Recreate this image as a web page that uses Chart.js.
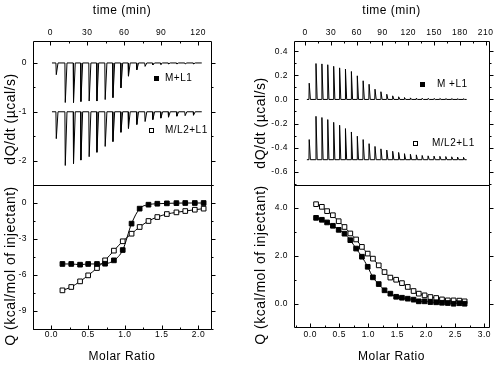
<!DOCTYPE html>
<html>
<head>
<meta charset="utf-8">
<script src="https://cdn.jsdelivr.net/npm/chart.js@4.4.1/dist/chart.umd.min.js"></script>
<style>
body { margin: 0; background: #fff; }
#wrap { position: relative; width: 500px; height: 369px; overflow: hidden; }
canvas { position: absolute; }
</style>
</head>
<body>
<div id="wrap">
	<canvas id="rawLeft" width="250" height="186" style="left:0;top:0"></canvas>
	<canvas id="fitLeft" width="250" height="185" style="left:0;top:184px"></canvas>
	<canvas id="rawRight" width="250" height="186" style="left:250px;top:0"></canvas>
	<canvas id="fitRight" width="250" height="185" style="left:250px;top:184px"></canvas>
</div>
<script>
// ---- left experiment: raw heat pulses ----
var timeLeft = [4.9, 12.2, 18.9, 24.9, 31.6, 37.9, 44.6, 50.9, 57.4, 63.5, 70.3, 77.0, 83.3, 89.8, 96.0, 102.8, 109.5, 116.3];
var peakLeftML1 = [-0.24, -0.81, -0.81, -0.79, -0.78, -0.78, -0.75, -0.71, -0.51, -0.27, -0.14, -0.07, -0.04, -0.03, -0.02, -0.02, -0.02, -0.02];
var peakLeftML2 = [-1.55, -2.1, -2.06, -1.99, -1.92, -1.83, -1.71, -1.61, -1.42, -1.34, -1.26, -1.2, -1.16, -1.13, -1.11, -1.09, -1.08, -1.07];
var baseLeftML1 = 0;
var baseLeftML2 = -1;
var spanLeft = [1.4, 123];

// ---- left experiment: integrated heats ----
var ratioLeft = [0.15, 0.27, 0.39, 0.50, 0.62, 0.73, 0.85, 0.97, 1.09, 1.20, 1.32, 1.44, 1.57, 1.70, 1.82, 1.95, 2.07];
var qLeftML1 = [-5.08, -5.08, -5.14, -5.08, -5.08, -5.06, -4.78, -3.92, -1.72, -0.47, -0.14, -0.06, -0.03, -0.01, 0, 0, 0];
var qLeftML2 = [-7.28, -7.0, -6.53, -6.03, -5.42, -4.78, -3.97, -3.19, -2.56, -2.0, -1.5, -1.17, -0.92, -0.78, -0.67, -0.56, -0.47];

// ---- right experiment: raw heat pulses ----
var timeRight = [4.7, 12.6, 19.5, 26.3, 33.2, 40.1, 46.9, 53.8, 60.7, 67.5, 74.4, 81.3, 88.2, 95.0, 101.9, 108.8, 115.6, 122.5, 129.4, 136.2, 143.1, 150.0, 156.8, 163.7, 170.6, 177.4, 184.3];
var peakRightML1 = [0.135, 0.298, 0.295, 0.288, 0.275, 0.262, 0.252, 0.232, 0.196, 0.155, 0.126, 0.085, 0.064, 0.043, 0.03, 0.022, 0.016, 0.013, 0.011, 0.01, 0.009, 0.008, 0.008, 0.007, 0.007, 0.006, 0.006];
var peakRightML2 = [-0.333, -0.14, -0.15, -0.167, -0.19, -0.214, -0.242, -0.27, -0.305, -0.333, -0.367, -0.39, -0.41, -0.42, -0.43, -0.44, -0.45, -0.455, -0.46, -0.465, -0.468, -0.47, -0.472, -0.474, -0.476, -0.478, -0.48];
var baseRightML1 = 0;
var baseRightML2 = -0.5;
var spanRight = [2, 188];

// ---- right experiment: integrated heats ----
var ratioRight = [0.10, 0.20, 0.29, 0.39, 0.49, 0.59, 0.69, 0.79, 0.89, 0.99, 1.08, 1.18, 1.28, 1.38, 1.48, 1.58, 1.68, 1.78, 1.87, 1.97, 2.07, 2.17, 2.27, 2.37, 2.47, 2.57, 2.66];
var qRightML1 = [3.58, 3.5, 3.39, 3.25, 3.08, 2.92, 2.65, 2.3, 1.96, 1.54, 1.1, 0.82, 0.56, 0.42, 0.29, 0.25, 0.21, 0.17, 0.1, 0.1, 0.07, 0.06, 0.04, 0.03, 0.0, 0.02, 0.0];
var qRightML2 = [4.15, 4.04, 3.86, 3.69, 3.44, 3.2, 2.93, 2.68, 2.37, 2.09, 1.88, 1.6, 1.32, 1.09, 1.0, 0.86, 0.7, 0.53, 0.42, 0.35, 0.28, 0.24, 0.18, 0.14, 0.14, 0.13, 0.1];

var FONT = "'Liberation Sans', Arial, sans-serif";

function isMajor(v, every) {
	var r = v / every;
	return Math.abs(r - Math.round(r)) < 1e-6;
}

// baseline with one narrow pulse per injection
function buildTrace(times, peaks, base, span) {
	var pts = [{ x: span[0], y: base }];
	for (var i = 0; i < times.length; i++) {
		pts.push({ x: times[i] - 0.3, y: base });
		pts.push({ x: times[i], y: peaks[i] });
		pts.push({ x: times[i] + 1.4, y: base });
	}
	pts.push({ x: span[1], y: base });
	return pts;
}

function pairs(xs, ys) {
	var out = [];
	for (var i = 0; i < xs.length; i++) out.push({ x: xs[i], y: ys[i] });
	return out;
}

// frame, inward ticks, spaced-out text and the little legends
var framePlugin = {
	id: "frame",
	beforeDraw: function(chart) {
		chart.ctx.letterSpacing = "0.5px";
		Object.values(chart.scales).forEach(function(scale) {
			if (scale._wrapped) return;
			scale._wrapped = true;
			var orig = scale.drawTitle;
			scale.drawTitle = function() {
				var ctx = this.ctx;
				var shift = this.options.titleShift || 0;
				ctx.save();
				ctx.translate(0, shift);
				orig.apply(this, arguments);
				ctx.restore();
			};
		});
	},
	afterDraw: function(chart, args, opts) {
		var ctx = chart.ctx;
		var a = chart.chartArea;
		var L = Math.round(a.left) + 0.5, T = Math.round(a.top) + 0.5;
		var R = Math.round(a.right) + 0.5, B = Math.round(a.bottom) + 0.5;
		ctx.save();
		ctx.strokeStyle = "#000";
		ctx.lineWidth = 1;
		ctx.beginPath();
		ctx.rect(L, T, R - L, B - T);
		ctx.stroke();

		Object.values(chart.scales).forEach(function(scale) {
			var every = scale.options.majorEvery;
			ctx.beginPath();
			scale.ticks.forEach(function(t) {
				var len = isMajor(t.value, every) ? 4 : 2;
				var p = Math.round(scale.getPixelForValue(t.value)) + 0.5;
				if (scale.isHorizontal()) {
					if (p < L || p > R) return;
					if (scale.options.position == "top") {
						ctx.moveTo(p, T); ctx.lineTo(p, T + len);
					} else {
						ctx.moveTo(p, B); ctx.lineTo(p, B - len);
					}
				} else {
					if (p < T || p > B) return;
					ctx.moveTo(L, p); ctx.lineTo(L + len, p);
					ctx.moveTo(R, p); ctx.lineTo(R + len, p);
				}
			});
			ctx.stroke();
		});

		(opts.items || []).forEach(function(it) {
			var x = Math.round(a.left + it.dx) + 0.5, y = Math.round(a.top + it.dy) + 0.5;
			ctx.fillStyle = it.filled ? "#000" : "#fff";
			ctx.fillRect(x - 2, y - 2, 4, 4);
			ctx.strokeRect(x - 2, y - 2, 4, 4);
			ctx.fillStyle = "#000";
			ctx.font = "10px " + FONT;
			ctx.textBaseline = "middle";
			ctx.textAlign = "left";
			ctx.fillText(it.text, a.left + it.tx, y);
		});
		ctx.restore();
	}
};

function axis(pos, min, max, step, every, decimals, size, title, titlePad, labelPad, titleShift) {
	return {
		type: "linear",
		position: pos,
		min: min,
		max: max,
		majorEvery: every,
		titleShift: titleShift || 0,
		grid: { display: false, drawTicks: false },
		border: { display: false },
		ticks: {
			stepSize: step,
			autoSkip: false,
			includeBounds: false,
			maxRotation: 0,
			padding: labelPad,
			color: "#000",
			font: { family: FONT, size: 8.5 },
			callback: function(v) {
				return isMajor(v, every) ? Number(v).toFixed(decimals) : "";
			}
		},
		title: {
			display: true,
			text: title,
			color: "#000",
			padding: titlePad,
			font: { family: FONT, size: pos == "left" ? 14 : 12 }
		},
		afterFit: function(scale) {
			// fixed box sizes so the four frames line up
			if (pos == "left") scale.width = size;
			else scale.height = size;
			scale.paddingTop = 0;
			scale.paddingBottom = 0;
			scale.paddingLeft = 0;
			scale.paddingRight = 0;
		}
	};
}

function lineSet(points) {
	return {
		data: points,
		showLine: true,
		borderColor: "#000",
		borderWidth: 1,
		pointRadius: 0,
		tension: 0
	};
}

function markSet(points, filled) {
	return {
		data: points,
		showLine: true,
		borderColor: "#000",
		borderWidth: 1,
		backgroundColor: filled ? "#000" : "#fff",
		pointStyle: "rect",
		pointRadius: 3.3,
		pointBorderWidth: 1,
		cubicInterpolationMode: "monotone"
	};
}

function makeChart(id, datasets, scales, padding, items) {
	return new Chart(document.getElementById(id).getContext("2d"), {
		type: "scatter",
		data: { datasets: datasets },
		options: {
			responsive: false,
			animation: false,
			events: [],
			layout: { padding: padding, autoPadding: false },
			plugins: {
				legend: { display: false },
				tooltip: { enabled: false },
				frame: { items: items }
			},
			scales: scales
		},
		plugins: [framePlugin]
	});
}

var rawLeft = makeChart("rawLeft",
	[
		lineSet(buildTrace(timeLeft, peakLeftML1, baseLeftML1, spanLeft)),
		lineSet(buildTrace(timeLeft, peakLeftML2, baseLeftML2, spanLeft))
	],
	{
		x: axis("top", -14, 130.5, 15, 30, 0, 41, "time (min)", { top: 3, bottom: 0 }, 3),
		y: axis("left", -2.5, 0.45, 0.5, 1, 0, 33, "dQ/dt (\u00b5cal/s)", { top: 3, bottom: 0 }, 6, 6)
	},
	{ left: 0, top: 0, right: 39, bottom: 1 },
	[
		{ dx: 123, dy: 37, tx: 132, text: "M+L1", filled: true },
		{ dx: 118, dy: 89, tx: 132, text: "M/L2+L1", filled: false }
	]
);

var fitLeft = makeChart("fitLeft",
	[markSet(pairs(ratioLeft, qLeftML1), true), markSet(pairs(ratioLeft, qLeftML2), false)],
	{
		x: axis("bottom", -0.25, 2.17, 0.25, 0.5, 1, 40, "Molar Ratio", { top: 0, bottom: 5 }, 1),
		y: axis("left", -10.5, 1.5, 1.5, 3, 0, 33, "Q (kcal/mol of injectant)", { top: 3, bottom: 0 }, 6, 9)
	},
	{ left: 0, top: 1, right: 39, bottom: 0 },
	[]
);

var rawRight = makeChart("rawRight",
	[
		lineSet(buildTrace(timeRight, peakRightML1, baseRightML1, spanRight)),
		lineSet(buildTrace(timeRight, peakRightML2, baseRightML2, spanRight))
	],
	{
		x: axis("top", -13, 214, 15, 30, 0, 41, "time (min)", { top: 3, bottom: 0 }, 3),
		y: axis("left", -0.71, 0.485, 0.1, 0.2, 1, 44, "dQ/dt (\u00b5cal/s)", { top: 3, bottom: 0 }, 6, 10)
	},
	{ left: 0, top: 0, right: 11, bottom: 1 },
	[
		{ dx: 128, dy: 43, tx: 143, text: "M +L1", filled: true },
		{ dx: 121, dy: 102, tx: 138, text: "M/L2+L1", filled: false }
	]
);

var fitRight = makeChart("fitRight",
	[markSet(pairs(ratioRight, qRightML1), true), markSet(pairs(ratioRight, qRightML2), false)],
	{
		x: axis("bottom", -0.28, 3.08, 0.25, 0.5, 1, 42, "Molar Ratio", { top: 0, bottom: 5 }, 3),
		y: axis("left", -0.97, 4.95, 1, 2, 1, 44, "Q (kcal/mol of injectant)", { top: 3, bottom: 0 }, 6, 9)
	},
	{ left: 0, top: 1, right: 11, bottom: 0 },
	[]
);
</script>
</body>
</html>
